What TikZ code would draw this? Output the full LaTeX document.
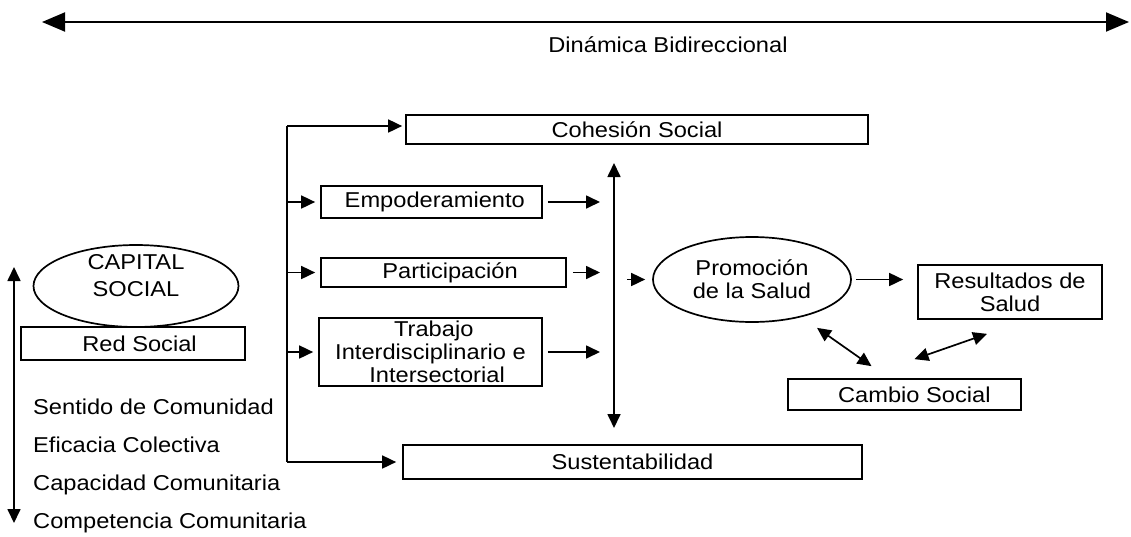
\documentclass[tikz,border=0pt]{standalone}
\usepackage{fontspec}
\setmainfont{Liberation Sans}[FakeStretch=1.1]
\usetikzlibrary{positioning, shapes, arrows.meta}
\newcommand\Letra{\fontsize{21.5}{23}\selectfont}

\begin{document}
\begin{tikzpicture}[auto, x=1pt, y=-1pt,
caja/.style={
  draw, line width=1.7pt,
  inner sep=0pt,
  align=center,
  font=\Letra
},
elipse/.style={
  ellipse, draw, line width=1.7pt,
  inner sep=0pt,
  align=center,
  font=\Letra
},
lista/.style={inner sep=0pt, anchor=west, font=\Letra},
flecha/.style={line width=1.7pt, -{Triangle[length=14pt,width=13pt]}},
doble/.style={line width=1.7pt, {Triangle[length=14pt,width=13pt]}-{Triangle[length=14pt,width=13pt]}},
grande/.style={line width=1.9pt, {Triangle[length=23pt,width=19pt]}-{Triangle[length=23pt,width=19pt]}}
]
\useasboundingbox (0,0) rectangle (1131,536);

\coordinate (izq) at (42,22);
\coordinate (der) at (1129,22);
\draw[grande] (izq) -- (der);
\node (dinamica) [inner sep=0pt, font=\Letra] at (668,45) {Dinámica Bidireccional};

\node (capital) [elipse, minimum width=205, minimum height=82] at (136,286) {};
\node (capitaltxt) [inner sep=0pt, align=center, font=\Letra, yshift=10pt] at (capital) {CAPITAL\\[4pt]SOCIAL};
\node (red) [caja, minimum width=224, minimum height=33] at (133,343.5) {\ \ Red Social};

\node (sentido) [lista] at (33,407) {Sentido de Comunidad};
\node (eficacia) [lista] at (33,445) {Eficacia Colectiva};
\node (capacidad) [lista] at (33,485) {Capacidad Comunitaria};
\node (competencia) [lista] at (33,523) {Competencia Comunitaria};
\coordinate (arriba) at (14,267);
\coordinate (abajo) at (14,523);
\draw[doble] (arriba) -- (abajo);

\node (cohesion) [caja, minimum width=462, minimum height=29] at (637,129.5) {Cohesión Social};
\node (empo) [caja, minimum width=221, minimum height=32] at (431.5,202) {\ Empoderamiento};
\node (partic) [caja, minimum width=245, minimum height=29] at (443.5,272.5) {\ \ Participación};
\node (trabajo) [caja, minimum width=223, minimum height=68] at (430.5,352) {\ Trabajo\\Interdisciplinario e\\\ \ Intersectorial};
\node (sust) [caja, minimum width=459, minimum height=34] at (632.5,462) {Sustentabilidad};

\coordinate (rama) at (287,126);
\draw[line width=1.7pt] (rama) -- (rama |- sust.west);
\draw[flecha, shorten >=3pt] (rama) -- (rama -| cohesion.west);
\draw[flecha, shorten >=6pt] (rama |- sust.west) -- (sust.west);
\draw[flecha, shorten >=5pt] (rama |- empo.west) -- (empo.west);
\draw[flecha, shorten >=5pt] (rama |- partic.west) -- (partic.west);
\draw[flecha, shorten >=5pt] (rama |- trabajo.west) -- (trabajo.west);

\coordinate (llega) at (600,0);
\draw[flecha, shorten <=5pt] (empo.east) -- (empo.east -| llega);
\draw[flecha, shorten <=6pt] (partic.east) -- (partic.east -| llega);
\draw[flecha, shorten <=5pt] (trabajo.east) -- (trabajo.east -| llega);

\coordinate (eje1) at (614,163);
\coordinate (eje2) at (614,428);
\draw[doble] (eje1) -- (eje2);

\node (promo) [elipse, minimum width=198, minimum height=85] at (752,279.5) {Promoción\\de la Salud};
\node (result) [caja, minimum width=184, minimum height=54] at (1010,292) {Resultados de\\Salud};
\node (cambio) [caja, minimum width=233, minimum height=31] at (904.5,394.5) {\ \ \ Cambio Social};

\coordinate (sale) at (627,0);
\draw[flecha, shorten >=7pt] (sale |- promo.west) -- (promo.west);
\draw[flecha, shorten <=4pt, shorten >=14pt] (promo.east) -- (promo.east -| result.west);
\draw[doble] ([xshift=65pt, yshift=-5pt]promo.south) -- ([xshift=-33pt, yshift=12pt]cambio.north);
\draw[doble] ([xshift=10pt, yshift=19pt]cambio.north) -- ([xshift=-23pt, yshift=-14pt]result.south);
\end{tikzpicture}
\end{document}
